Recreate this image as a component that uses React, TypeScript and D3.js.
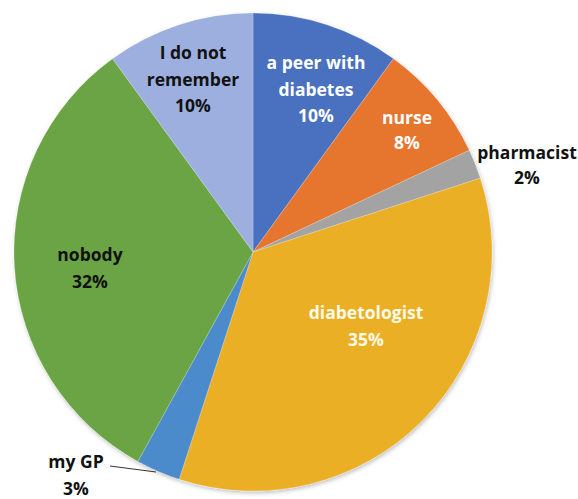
import React from "react";
import * as d3 from "d3";

const categories = ["a peer with diabetes", "nurse", "pharmacist", "diabetologist", "my GP", "nobody", "I do not remember"];
const values = [10, 8, 2, 35, 3, 32, 10];
const labelLines = [
  ["a peer with", "diabetes", "10%"],
  ["nurse", "8%"],
  ["pharmacist", "2%"],
  ["diabetologist", "35%"],
  ["my GP", "3%"],
  ["nobody", "32%"],
  ["I do not", "remember", "10%"],
];
const colors = ["#4A71C0", "#E6742F", "#A3A3A3", "#EBAF26", "#4B8BCB", "#6AA444", "#9DAFDF"];
const textColors = ["#ffffff", "#ffffff", "#111111", "#fffbea", "#111111", "#111111", "#111111"];
// label anchor centers (first line), and line spacing
const labelPos: [number, number][] = [
  [316, 63], [407, 118], [527, 153], [366, 313], [76, 462], [90, 255], [193, 53],
];

export default function App() {
  const W = 578, H = 499;
  const cx = 253, cy = 252, r = 239;
  const pie = d3.pie<number>().sort(null).value((d) => d)(values);
  const arc = d3.arc<d3.PieArcDatum<number>>().innerRadius(0).outerRadius(r);
  const lineH = 26.5;
  return (
    <svg width={W} height={H} style={{ position: "absolute", left: 0, top: 0, background: "#fff" }}>
      <defs>
        <filter id="sh" x="-10%" y="-10%" width="120%" height="120%">
          <feDropShadow dx="1" dy="2" stdDeviation="2" floodColor="#000" floodOpacity="0.25" />
        </filter>
      </defs>
      <g transform={`translate(${cx},${cy})`} filter="url(#sh)">
        {pie.map((p, i) => (
          <path key={categories[i]} d={arc(p) || ""} fill={colors[i]} stroke="#ffffff" strokeOpacity={0.35} strokeWidth={0.6} />
        ))}
      </g>
      <line x1={110} y1={466} x2={156} y2={472} stroke="#333" strokeWidth={1} />
      {labelLines.map((lines, i) => (
        <text
          key={"t" + i}
          x={labelPos[i][0]}
          y={labelPos[i][1]}
          textAnchor="middle"
          fontFamily="'Open Sans', sans-serif"
          fontWeight={700}
          fontSize={17.5}
          fill={textColors[i]}
        >
          {lines.map((l, j) => (
            <tspan key={j} x={labelPos[i][0]} y={labelPos[i][1] + j * (i === 1 || i === 2 ? 25 : lineH)} dy="0.35em">
              {l}
            </tspan>
          ))}
        </text>
      ))}
    </svg>
  );
}
